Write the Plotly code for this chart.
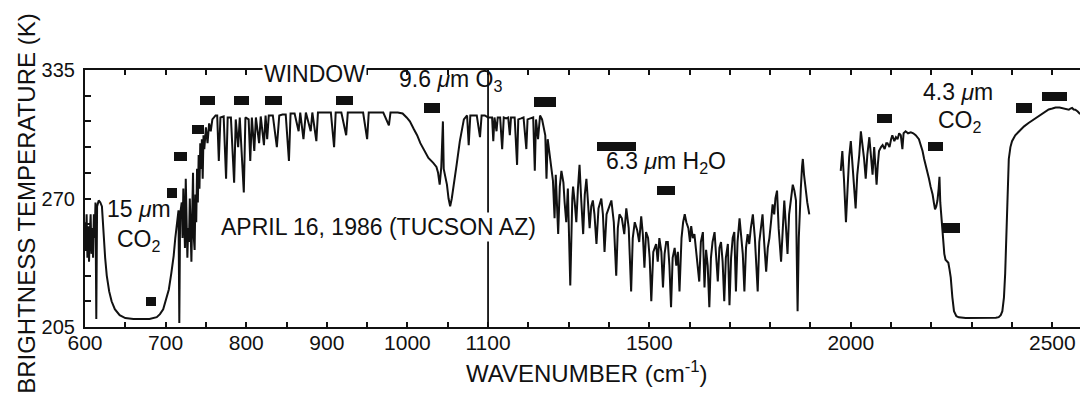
import plotly.graph_objects as go

# ---------------- data (wavenumber in cm^-1, brightness temperature in K) ----------------
# 15 um CO2 band and the rise into the window
co2_15_wn = [600, 601, 602, 603, 604, 605, 606, 607, 608, 609,
             610, 611, 612, 613, 614, 615, 617, 619, 621, 623,
             625, 627, 630, 633, 637, 643, 650, 660, 670, 680,
             689, 693, 697, 700, 704, 707, 710, 712, 714, 716,
             717, 718, 720, 721, 722, 723, 724, 725, 726, 727,
             728, 729, 730, 731, 732, 733, 734, 735, 736, 737,
             738, 739, 740, 741, 742, 743, 744, 745, 746, 747,
             748, 750, 752, 754, 756, 758, 760, 762]
co2_15_tb = [258, 244, 262, 240, 256, 238, 252, 262, 242, 255,
             240, 262, 250, 268, 209, 266, 269, 268, 266, 252,
             240, 231, 223, 218, 214, 211, 209.5, 209, 209, 209,
             210, 211.5, 214, 218, 224, 232, 241, 250, 258, 264,
             207, 262, 268, 250, 275, 258, 245, 280, 262, 240,
             255, 248, 270, 252, 238, 262, 283, 250, 244, 272,
             258, 285, 268, 292, 275, 298, 285, 300, 280, 302,
             295, 306, 298, 308, 304, 310, 311, 312]

# atmospheric window and 9.6 um O3 band
window_wn = [764, 766, 768, 772, 775, 777, 781, 785, 787, 790,
             792, 797, 799, 803, 805, 807, 810, 812, 816, 818,
             822, 824, 826, 828, 833, 838, 841, 845, 849, 853,
             855, 860, 865, 867, 871, 874, 880, 882, 887, 889,
             895, 900, 905, 909, 911, 918, 924, 926, 935, 945,
             950, 952, 960, 970, 977, 979, 988, 994, 999, 1003,
             1008, 1012, 1016, 1020, 1026, 1032, 1036, 1038, 1040, 1042,
             1044, 1045, 1047, 1049, 1051, 1053, 1055, 1057, 1061, 1065,
             1070, 1074, 1076, 1078, 1083, 1086, 1090, 1092, 1096, 1100]
window_tb = [312, 289, 311, 311.5, 280, 311, 311, 278, 310, 296,
             311, 273, 311, 310, 289, 311, 294, 311, 298, 311.5,
             297, 312, 300, 312, 312, 296, 312, 312.5, 312.5, 289,
             313, 313, 304, 313.5, 300, 313.5, 304, 313.5, 299, 313.5,
             313.5, 313.5, 313.5, 296, 313.5, 313.5, 302, 313.5, 313.5, 313.5,
             300, 313.5, 313.5, 313.5, 307, 313.5, 313.5, 313, 311, 309,
             305, 302, 298, 295, 290.5, 288, 286, 283, 277, 286,
             309, 285, 281, 277, 270, 266, 270, 275, 287, 299,
             310, 312, 297, 312, 312, 312, 301, 312, 312, 311]

# window beyond the axis break
window2_wn = [1106, 1110, 1113, 1116, 1121, 1124, 1130, 1135, 1139, 1145,
              1150, 1154, 1157, 1163, 1166, 1172, 1175, 1182, 1188, 1195,
              1198, 1205, 1210]
window2_tb = [311, 311, 299, 311, 304, 311, 311, 295, 311, 310.5,
              311, 302, 311, 311, 311, 287, 310, 310.5, 311, 295,
              310, 310.5, 311]

# 6.3 um H2O band
h2o_wn = [1212, 1216, 1219, 1224, 1229, 1234, 1238, 1242, 1245, 1248,
          1253, 1258, 1261, 1265, 1268, 1274, 1278, 1282, 1287, 1290,
          1294, 1298, 1304, 1309, 1311, 1315, 1319, 1323, 1327, 1331,
          1336, 1340, 1344, 1348, 1352, 1356, 1360, 1364, 1369, 1374,
          1381, 1385, 1389, 1394, 1400, 1406, 1412, 1418, 1422, 1426,
          1432, 1438, 1443, 1449, 1455, 1459, 1464, 1470, 1475, 1480,
          1484, 1488, 1492, 1497, 1501, 1505, 1510, 1517, 1521, 1525,
          1530, 1534, 1538, 1542, 1546, 1550, 1554, 1558, 1563, 1567,
          1571, 1575, 1580, 1584, 1588, 1592, 1597, 1601, 1604, 1608,
          1612, 1616, 1620, 1624, 1628, 1633, 1637, 1641, 1645, 1649,
          1653, 1657, 1662, 1666, 1670, 1674, 1678, 1682, 1686, 1690,
          1695, 1699, 1703, 1707, 1711, 1715, 1719, 1724, 1728, 1732,
          1736, 1740, 1744, 1748, 1752, 1757, 1762, 1769, 1773, 1777,
          1781, 1785, 1790, 1794, 1798, 1802, 1806, 1810, 1813, 1817,
          1821, 1827, 1831, 1835, 1839, 1843, 1847, 1852, 1856, 1860,
          1864, 1866, 1868, 1871, 1874, 1876, 1879, 1881, 1884, 1888,
          1892, 1897]
h2o_tb = [311, 284, 310, 300, 312, 310, 305, 302, 280, 300,
          292, 285, 279, 260, 282, 252, 276, 284, 278, 268,
          258, 275, 226, 270, 276, 268, 258, 275, 287, 270,
          252, 272, 280, 268, 255, 266, 269, 262, 247, 265,
          270, 262, 243, 262, 266, 269, 258, 231, 255, 262,
          260, 252, 265, 255, 223, 250, 258, 254, 248, 261,
          252, 235, 253, 250, 240, 218, 243, 247, 238, 250,
          243, 225, 242, 248, 248, 236, 215, 240, 245, 236,
          243, 223, 250, 258, 262, 258, 255, 248, 256, 250,
          252, 245, 236, 228, 248, 253, 225, 244, 236, 215,
          240, 248, 253, 240, 228, 245, 248, 238, 218, 240,
          247, 216, 240, 250, 253, 223, 248, 260, 250, 242,
          223, 245, 252, 247, 255, 262, 250, 223, 248, 255,
          262, 248, 233, 245, 250, 258, 267, 262, 270, 274,
          255, 238, 258, 269, 256, 242, 262, 272, 277, 274,
          269, 240, 213, 250, 270, 275, 286, 290, 282, 274,
          268, 262]

# 4.3 um CO2 band (after the data gap)
co2_43_wn = [1975, 1979, 1983, 1988, 1992, 1996, 2000, 2004, 2008, 2012,
             2016, 2021, 2025, 2029, 2033, 2037, 2041, 2046, 2050, 2054,
             2058, 2061, 2064, 2067, 2070, 2075, 2079, 2084, 2088, 2091,
             2096, 2100, 2103, 2108, 2112, 2116, 2120, 2124, 2128, 2131,
             2136, 2142, 2149, 2155, 2161, 2169, 2174, 2178, 2182, 2186,
             2190, 2194, 2198, 2203, 2206, 2209, 2212, 2215, 2218, 2220,
             2222, 2225, 2229, 2232, 2235, 2242, 2245, 2248, 2252, 2256,
             2262, 2268, 2285, 2301, 2320, 2340, 2360, 2367, 2372, 2376,
             2380, 2383, 2386, 2388, 2390, 2392, 2396, 2400, 2408, 2417,
             2430, 2441, 2455, 2466, 2478, 2491, 2500, 2508, 2518, 2528,
             2535, 2541, 2545, 2549, 2553, 2557, 2563, 2569]
co2_43_tb = [284, 294, 280, 258, 275, 291, 299, 288, 276, 265,
             282, 292, 304, 298, 290, 280, 292, 301, 290, 282,
             296, 285, 277, 287, 294, 296, 297, 295, 298, 298,
             296, 300, 302, 299, 301, 300, 303, 302, 295, 303,
             304, 303, 303.5, 303, 302, 300, 297, 294, 290, 287,
             284, 280, 276, 272, 268, 264.5, 266, 269, 275, 281,
             268, 259, 247, 242, 239, 237.5, 234, 230, 220, 213,
             210.5, 209.9, 209.6, 209.6, 209.5, 209.6, 209.7, 210, 211, 213,
             220, 232, 250, 263, 278, 290, 296, 299, 302, 304,
             306.5, 308.2, 310, 311.6, 313, 315, 315.5, 316, 316, 315.5,
             315, 314.9, 315.5, 315.8, 315, 314.9, 314, 312.7]

# black rectangles (band centre, temperature, band width in cm^-1)
box_wn = [682, 708, 719, 740, 752, 794, 834, 922, 1030,
          1241, 1418, 1542, 2083, 2211, 2249, 2430, 2505]
box_tb = [218, 272.8, 291.3, 304.8, 319.5, 319.5, 319.5, 319.5, 315.8,
          318.8, 296.4, 274.2, 310.4, 296.4, 255.1, 315.8, 321.7]
box_width = [12, 12, 16, 14, 19, 19, 21, 22, 20,
             54, 96, 44, 37, 37, 44, 40, 62]
box_height = 4.6

# axis ticks
x_major_wn = [600, 700, 800, 900, 1000, 1100, 1500, 2000, 2500]
x_minor_wn = [650, 750, 850, 950, 1050,
              1200, 1300, 1400, 1600, 1700, 1800, 1900,
              2100, 2200, 2300, 2400]
y_major = [205, 270, 335]
y_minor = [218, 231, 244, 257, 283, 296, 309, 322]

for a, b in [(co2_15_wn, co2_15_tb), (window_wn, window_tb), (window2_wn, window2_tb),
             (h2o_wn, h2o_tb), (co2_43_wn, co2_43_tb)]:
    assert len(a) == len(b), (len(a), len(b))
assert len(box_wn) == len(box_tb) == len(box_width)

# ---------------- broken (two-scale) wavenumber axis ----------------
BREAK = 1100.0


def to_axis(w):
    if w is None:
        return None
    return w if w <= BREAK else BREAK + (w - BREAK) / 2.0


def width_to_axis(c, w):
    return w if c <= BREAK else w / 2.0


spec_wn = co2_15_wn + window_wn + window2_wn + h2o_wn + [None] + co2_43_wn
spec_tb = co2_15_tb + window_tb + window2_tb + h2o_tb + [None] + co2_43_tb

INK = "#111111"
FONT = "Liberation Sans, Arial, Helvetica, sans-serif"

fig = go.Figure()
fig.add_trace(go.Scatter(
    x=[to_axis(w) for w in spec_wn], y=spec_tb, mode="lines",
    line=dict(color=INK, width=2), connectgaps=False, hoverinfo="skip"))
fig.add_trace(go.Bar(
    x=[to_axis(w) for w in box_wn],
    y=[box_height] * len(box_wn),
    base=[t - box_height / 2 for t in box_tb],
    width=[width_to_axis(c, w) for c, w in zip(box_wn, box_width)],
    marker=dict(color=INK, line=dict(width=0)), hoverinfo="skip"))

# vertical break line at 1100 cm^-1
fig.add_shape(type="line", xref="x", yref="paper", x0=to_axis(1100), x1=to_axis(1100),
              y0=0, y1=1, line=dict(color=INK, width=1.8), layer="above")

ann_font = dict(family=FONT, size=23, color=INK)
notes = [
    ("WINDOW", 885, 333.0, "white"),
    ("9.6 <i>μ</i>m O<sub>3</sub>", 1052.8, 329.5, None),
    ("15 <i>μ</i>m", 667.4, 264.5, None),
    ("CO<sub>2</sub>", 667.0, 249.0, None),
    ("APRIL 16, 1986 (TUCSON AZ)", 964.2, 255.5, "white"),
    ("6.3 <i>μ</i>m H<sub>2</sub>O", 1320.2, 288.0, None),
    ("4.3 <i>μ</i>m", 1683.6, 324.0, None),
    ("CO<sub>2</sub>", 1685.4, 309.0, None),
]
for txt, x, y, bg in notes:
    kw = dict(bgcolor=bg) if bg else {}
    fig.add_annotation(text=txt, x=x, y=y, xref="x", yref="y", showarrow=False,
                       font=ann_font, xanchor="center", yanchor="middle", borderpad=1, **kw)

# axis titles
fig.add_annotation(text="BRIGHTNESS TEMPERATURE (K)", xref="paper", yref="paper",
                   x=-0.0586, y=0.48, textangle=-90, showarrow=False,
                   font=dict(family=FONT, size=24, color=INK), xanchor="center", yanchor="middle")
fig.add_annotation(text="WAVENUMBER (cm<sup>-1</sup>)", xref="paper", yref="paper",
                   x=0.5, y=-0.175, showarrow=False,
                   font=dict(family=FONT, size=24, color=INK), xanchor="center", yanchor="middle")

tick_style = dict(ticks="inside", tickwidth=1.5, tickcolor=INK)
fig.update_xaxes(
    range=[600, to_axis(2591)], tickmode="array",
    tickvals=[to_axis(w) for w in x_major_wn],
    ticktext=[str(w) for w in x_major_wn],
    ticklen=5, **tick_style,
    minor=dict(tickvals=[to_axis(w) for w in x_minor_wn], ticklen=5, showgrid=False,
               **tick_style),
    showline=True, linewidth=2.2, linecolor=INK, mirror="ticks",
    showgrid=False, zeroline=False, ticklabelstandoff=-4,
    tickfont=dict(family=FONT, size=21, color=INK))
fig.update_yaxes(
    range=[205, 335], tickmode="array", tickvals=y_major,
    ticktext=[str(v) for v in y_major],
    ticklen=6, **tick_style,
    minor=dict(tickvals=y_minor, ticklen=6, showgrid=False, **tick_style),
    showline=True, linewidth=2.2, linecolor=INK, mirror="ticks",
    showgrid=False, zeroline=False, ticklabelstandoff=4,
    tickfont=dict(family=FONT, size=20, color=INK))

fig.update_layout(
    width=1088, height=393, margin=dict(l=77, r=5, t=62, b=74),
    paper_bgcolor="white", plot_bgcolor="white", showlegend=False,
    bargap=0)

fig.write_html("out.html")
